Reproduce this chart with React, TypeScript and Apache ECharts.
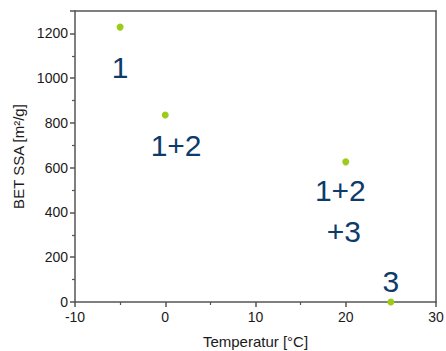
import React, { useEffect, useRef } from "react";
import * as echarts from "echarts";

const temps = [-5, 0, 20, 25];
const ssa = [1228, 835, 626, 0];
const labelTexts = ["1", "1+2", "1+2", "+3", "3"];
const labelX = [-5, 1.2, 19.4, 19.8, 25];
const labelY = [1049, 697, 500, 313, 90];

export default function App() {
  const ref = useRef<HTMLDivElement>(null);
  useEffect(() => {
    const chart = echarts.init(ref.current!, null, { renderer: "svg" });
    const axisCol = "#555";
    const font = "Liberation Sans, Arial, sans-serif";
    chart.setOption({
      animation: false,
      grid: { left: 75, top: 11, right: 10, bottom: 49, containLabel: false, outerBoundsMode: "none" },
      xAxis: [
        {
          type: "value", min: -10, max: 30, interval: 10,
          name: "Temperatur [°C]", nameLocation: "middle", nameGap: 32,
          nameTextStyle: { color: "#1a1a1a", fontSize: 15, fontFamily: font },
          axisLine: { show: true, onZero: false, lineStyle: { color: axisCol, width: 1.5 } },
          axisTick: { show: true, length: 5, lineStyle: { color: axisCol, width: 1.5 } },
          minorTick: { show: true, splitNumber: 2, length: 3, lineStyle: { color: axisCol, width: 1.2 } },
          axisLabel: { color: "#1a1a1a", fontSize: 14, fontFamily: font, margin: 8, formatter: (v: number) => String(v) },
          splitLine: { show: false },
        },
        {
          type: "value", min: -10, max: 30, position: "top",
          axisLine: { show: true, onZero: false, lineStyle: { color: axisCol, width: 1.5 } },
          axisTick: { show: false }, axisLabel: { show: false }, splitLine: { show: false },
        },
      ],
      yAxis: [
        {
          type: "value", min: 0, max: 1300, interval: 200,
          name: "BET SSA [m²/g]", nameLocation: "middle", nameGap: 47,
          nameTextStyle: { color: "#1a1a1a", fontSize: 15, fontFamily: font },
          axisLine: { show: true, onZero: false, lineStyle: { color: axisCol, width: 1.5 } },
          axisTick: { show: true, length: 5, lineStyle: { color: axisCol, width: 1.5 } },
          minorTick: { show: true, splitNumber: 2, length: 3, lineStyle: { color: axisCol, width: 1.2 } },
          axisLabel: { color: "#1a1a1a", fontSize: 14, fontFamily: font, margin: 7, showMaxLabel: false, formatter: (v: number) => String(v) },
          splitLine: { show: false },
        },
        {
          type: "value", min: 0, max: 1300, position: "right",
          axisLine: { show: true, onZero: false, lineStyle: { color: axisCol, width: 1.5 } },
          axisTick: { show: false }, axisLabel: { show: false }, splitLine: { show: false },
        },
      ],
      series: [
        {
          type: "scatter",
          data: temps.map((t, i) => [t, ssa[i]]),
          symbolSize: 7,
          itemStyle: { color: "#9ccb19", opacity: 1 },
          z: 5,
        },
        {
          type: "scatter",
          data: labelX.map((x, i) => [x, labelY[i]]),
          symbolSize: 1,
          itemStyle: { color: "rgba(0,0,0,0)", opacity: 1 },
          label: {
            show: true,
            position: "inside",
            formatter: (p: any) => labelTexts[p.dataIndex],
            color: "#0d3b6a",
            fontSize: 30,
            fontFamily: font,
          },
          emphasis: { disabled: true },
          silent: true,
        },
      ],
    });
    return () => chart.dispose();
  }, []);
  return <div ref={ref} style={{ width: 446, height: 351, position: "absolute", left: 0, top: 0 }} />;
}
